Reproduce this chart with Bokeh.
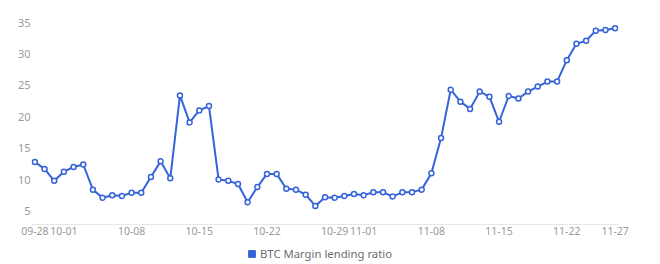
import pandas as pd
from bokeh.plotting import figure
from bokeh.layouts import column
from bokeh.models import ColumnDataSource, FixedTicker, Legend, LegendItem, Range1d
from bokeh.embed import file_html
from bokeh.resources import INLINE

# Daily dates, 09-28 through 11-27
dates = [d.strftime("%m-%d") for d in pd.date_range("2021-09-28", "2021-11-27", freq="D")]

# BTC margin lending ratio per day
ratio = [
    12.8, 11.7, 9.8, 11.25, 12.0, 12.4, 8.4, 7.1, 7.5, 7.4,
    7.9, 7.9, 10.4, 12.9, 10.2, 23.4, 19.1, 21.0, 21.7, 10.0,
    9.8, 9.3, 6.4, 8.8, 10.9, 10.9, 8.55, 8.4, 7.6, 5.8,
    7.2, 7.1, 7.4, 7.7, 7.5, 8.0, 8.0, 7.3, 8.0, 8.0,
    8.4, 11.0, 16.6, 24.3, 22.4, 21.25, 24.0, 23.2, 19.2, 23.3,
    22.9, 24.0, 24.8, 25.6, 25.6, 29.0, 31.6, 32.1, 33.7, 33.8,
    34.1,
]

tick_labels = ["09-28", "10-01", "10-08", "10-15", "10-22", "10-29",
               "11-01", "11-08", "11-15", "11-22", "11-27"]
y_ticks = [5, 10, 15, 20, 25, 30, 35]
series_name = "BTC Margin lending ratio"

LINE = "#3563d9"
FONT = "Noto Sans"
PAD = 0.35  # keeps the end markers inside the frame

src = ColumnDataSource(dict(x=list(range(len(dates))), y=ratio, date=dates))

p = figure(output_backend="svg", toolbar_location=None,
           x_range=Range1d(-PAD, len(dates) - 1 + PAD), y_range=Range1d(2.85, 35),
           min_border_left=31, min_border_right=42, min_border_top=22,
           min_border_bottom=20, frame_width=587, frame_height=202)
p.outline_line_color = None
p.background_fill_color = "white"
p.border_fill_color = "white"

p.line("x", "y", source=src, line_color=LINE, line_width=2)
p.scatter("x", "y", source=src, size=5, fill_color="white",
          line_color=LINE, line_width=1.5)

# x axis: date labels at fixed positions
tick_pos = [dates.index(t) for t in tick_labels]
p.xaxis.ticker = FixedTicker(ticks=tick_pos)
p.xaxis.major_label_overrides = {i: t for i, t in zip(tick_pos, tick_labels)}
p.xaxis.axis_line_color = "#e6e6e6"
p.xaxis.major_label_text_color = "#9a9a9a"
p.xaxis.major_label_text_font = FONT
p.xaxis.major_label_text_font_size = "10.5px"
p.xaxis.major_label_standoff = 2

p.yaxis.ticker = FixedTicker(ticks=y_ticks)
p.yaxis.axis_line_color = None
p.yaxis.major_label_text_color = "#9a9a9a"
p.yaxis.major_label_text_font = FONT
p.yaxis.major_label_text_font_size = "11px"
p.yaxis.major_label_standoff = 1

for ax in (p.xaxis, p.yaxis):
    ax.major_tick_line_color = None
    ax.minor_tick_line_color = None
    ax.major_tick_out = 0
    ax.major_tick_in = 0
    ax.minor_tick_out = 0
    ax.minor_tick_in = 0

p.xgrid.grid_line_color = None
p.ygrid.grid_line_color = None

# Legend strip under the chart
leg = figure(width=660, height=20, output_backend="svg", toolbar_location=None,
             x_range=Range1d(0, 1), y_range=Range1d(0, 1),
             x_axis_location=None, y_axis_location=None, min_border=0)
leg.outline_line_color = None
leg.grid.grid_line_color = None
leg.border_fill_color = "white"
key = leg.scatter([-1], [-1], marker="square", size=8, fill_color=LINE, line_color=LINE)
legend = Legend(items=[LegendItem(label=series_name, renderers=[key])],
                location=(212, 2), orientation="horizontal",
                label_text_font=FONT, label_text_font_size="11.3px",
                label_text_color="#6e6e6e", label_height=14, glyph_width=17, glyph_height=17,
                label_standoff=0, border_line_color=None, background_fill_alpha=0,
                padding=0, margin=0, spacing=0)
leg.add_layout(legend)

layout = column(p, leg, spacing=0)
open("out.html", "w").write(file_html(layout, INLINE))
